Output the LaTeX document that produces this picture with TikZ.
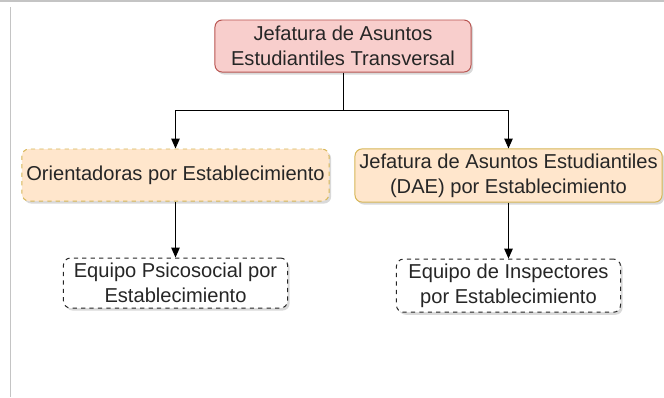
\documentclass[tikz,border=0pt]{standalone}
\usepackage{fontspec}
\setmainfont{Liberation Sans}
\usepackage{tikz}
\usetikzlibrary{arrows.meta,positioning,shadows}
\usepackage{xcolor}
\definecolor{headfill}{HTML}{F8CECC}
\definecolor{headline}{HTML}{B85450}
\definecolor{unitfill}{HTML}{FFE6CC}
\definecolor{unitline}{HTML}{D6B656}
\definecolor{frameline}{HTML}{C4C4C4}
\definecolor{textcol}{HTML}{262626}

\begin{document}
\begin{tikzpicture}[
  x=0.025cm, y=-0.025cm,
  box/.style={draw, rounded corners=5pt, line width=0.7pt, align=center, inner xsep=1pt,
    font=\fontsize{14.3}{17.8}\selectfont, text=textcol,
    drop shadow={opacity=0.3, shadow xshift=1.5pt, shadow yshift=-1.8pt}},
  headbox/.style={box, fill=headfill, draw=headline, minimum width=6.4cm, minimum height=1.3cm},
  unitbox/.style={box, fill=unitfill, draw=unitline, minimum width=7.675cm, minimum height=1.3cm},
  teambox/.style={box, fill=white, draw=textcol, dashed, minimum width=5.6cm, minimum height=1.25cm},
  arr/.style={-{Triangle[length=7pt, width=6pt]}, line width=0.7pt},
]
\useasboundingbox (0,0) rectangle (664,397);
% screenshot frame
\draw[frameline, line width=0.8pt] (0,1) -- (664,1);
\draw[frameline, line width=0.8pt] (10.5,7) -- (10.5,397);

\node[headbox] (jat) at (343,46) {Jefatura de Asuntos\\Estudiantiles Transversal};
\node[unitbox, dashed] (ori) at (175.5,175) {Orientadoras por Establecimiento};
\node[unitbox] (dae) at (508.5,175.5) {Jefatura de Asuntos Estudiantiles\\(DAE) por Establecimiento};

\node[teambox, below=1.4cm of ori] (psi) {Equipo Psicosocial por\\Establecimiento};
\node[teambox, below=1.4cm of dae] (ins) {Equipo de Inspectores\\por Establecimiento};

% tree connectors
\coordinate (split) at (jat.south |- 0,110);
\draw[line width=0.7pt] (jat) -- (split);
\draw[arr] (split) -| (ori);
\draw[arr] (split) -| (dae);
\draw[arr] (ori) -- (psi);
\draw[arr] (dae) -- (ins);
\end{tikzpicture}
\end{document}
